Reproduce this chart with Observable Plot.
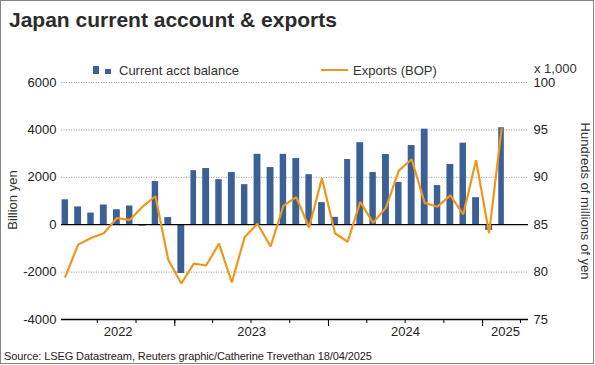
<!DOCTYPE html>
<html>
<head>
<meta charset="utf-8">
<script src="https://cdn.jsdelivr.net/npm/d3@7"></script>
<script src="https://cdn.jsdelivr.net/npm/@observablehq/plot@0.6"></script>
<style>
  html, body { margin: 0; padding: 0; background: #fff; }
  #wrap { position: relative; width: 595px; height: 365px; background: #fff; font-family: "Liberation Sans", Arial, sans-serif; color: #333; overflow: hidden; }
  #wrap .abs { position: absolute; white-space: nowrap; }
  #border { position: absolute; left: 0; top: 0; width: 594px; height: 364px; box-sizing: border-box; border: 1px solid #858585; pointer-events: none; }
  #chart { position: absolute; left: 0; top: 60px; }
</style>
</head>
<body>
<div id="wrap">
  <div class="abs" style="left:9px; top:9px; font-size:21px; line-height:21px; font-weight:bold; color:#2b2b2b;">Japan current account &amp; exports</div>
  <div class="abs" style="left:93px; top:66px; width:6px; height:8px; background:#3b6095;"></div>
  <div class="abs" style="left:105px; top:69px; width:6px; height:5px; background:#3b6095;"></div>
  <div class="abs" style="left:119px; top:63.5px; font-size:13px; line-height:13px;">Current acct balance</div>
  <div class="abs" style="left:321px; top:69px; width:27px; height:2px; background:#f0961a;"></div>
  <div class="abs" style="left:353px; top:63.5px; font-size:13px; line-height:13px;">Exports (BOP)</div>
  <div class="abs" style="left:534px; top:62px; font-size:13px; line-height:13px;">x 1,000</div>
  <div class="abs" style="left:12px; top:200px; font-size:13px; line-height:13px; transform:translate(-50%,-50%) rotate(-90deg);">Billion yen</div>
  <div class="abs" style="left:585px; top:201px; font-size:13px; line-height:13px; transform:translate(-50%,-50%) rotate(90deg);">Hundreds of millions of yen</div>
  <div class="abs" style="left:4px; top:350px; font-size:11px; line-height:12px; letter-spacing:-0.1px; color:#222;">Source: LSEG Datastream, Reuters graphic/Catherine Trevethan 18/04/2025</div>
  <div id="chart"></div>
  <div id="border"></div>
</div>
<script>
// ---- Data ----
const months = [
  "2022-04","2022-05","2022-06","2022-07","2022-08","2022-09","2022-10","2022-11","2022-12",
  "2023-01","2023-02","2023-03","2023-04","2023-05","2023-06","2023-07","2023-08","2023-09","2023-10","2023-11","2023-12",
  "2024-01","2024-02","2024-03","2024-04","2024-05","2024-06","2024-07","2024-08","2024-09","2024-10","2024-11","2024-12",
  "2025-01","2025-02"
];
// Current account balance, billion yen
const currentAcct = [
  1050, 750, 490, 830, 630, 790, -60, 1820, 300,
  -2060, 2280, 2370, 1900, 2200, 1690, 2970, 2410, 2970, 2790, 2110, 930,
  310, 2750, 3460, 2200, 2960, 1780, 3340, 4030, 1650, 2540, 3440, 1140,
  -240, 4090
];
// Exports (BOP), hundreds of millions of yen x 1,000
const exportsBOP = [
  79.5, 82.9, 83.6, 84.1, 85.7, 85.5, 86.9, 88.0, 81.3,
  78.8, 80.9, 80.7, 83.0, 78.9, 83.7, 85.1, 82.7, 87.0, 87.9, 84.7, 89.9,
  84.1, 83.2, 87.4, 85.2, 86.8, 90.7, 91.9, 87.3, 86.9, 88.1, 86.1, 91.8,
  84.1, 95.1
];
const leftTicks = [-4000, -2000, 0, 2000, 4000, 6000];
const rightTicks = [75, 80, 85, 90, 95, 100];
const gridTicks = [-2000, 2000, 4000, 6000];
const yearNames = ["2022", "2023", "2024", "2025"];

// ---- Build ----
const barColor = "#3b6095";
const lineColor = "#f0961a";
const parse = d3.utcParse("%Y-%m");
const rows = months.map((m, i) => {
  const start = parse(m);
  const next = d3.utcMonth.offset(start, 1);
  return { start, mid: new Date((+start + +next) / 2), ca: currentAcct[i], ex: exportsBOP[i] };
});
// right axis mapped onto the left scale: 85 <-> 0, 5 units <-> 2000
const toLeft = v => (v - 85) * 400;
const fromLeft = d => String(Math.round((d / 400 + 85) * 100) / 100);

const xDomain = [new Date(Date.UTC(2022, 3, 7)), new Date(Date.UTC(2025, 3, 20))];
const quarterTicks = d3.utcMonth.every(3).range(xDomain[0], xDomain[1]);
const yearTicks = d3.utcYear.range(xDomain[0], xDomain[1]);
const yearLabels = yearNames.map(y => {
  const s = Math.max(+Date.UTC(+y, 0, 1), +xDomain[0]);
  const e = Math.min(+Date.UTC(+y + 1, 0, 1), +xDomain[1]);
  return { label: y, mid: new Date((s + e) / 2) };
});

const chart = Plot.plot({
  width: 595,
  height: 290,
  marginLeft: 61,
  marginRight: 67,
  marginTop: 22,
  marginBottom: 31,
  style: { fontFamily: "'Liberation Sans', Arial, sans-serif", fontSize: "13px", color: "#222", background: "transparent", overflow: "visible" },
  x: { type: "utc", domain: xDomain, axis: null },
  y: { domain: [-4000, 6000], axis: null },
  marks: [
    Plot.ruleY(gridTicks, { stroke: "#9a9a9a", strokeDasharray: "1,1.5", strokeWidth: 1 }),
    Plot.rectY(rows, { x: "start", y: "ca", interval: d3.utcMonth, fill: barColor, insetLeft: 3.1, insetRight: 3.1 }),
    Plot.ruleY([0], { stroke: "#000", strokeWidth: 1.3 }),
    Plot.line(rows, { x: "mid", y: d => toLeft(d.ex), stroke: lineColor, strokeWidth: 2.2, strokeLinejoin: "miter" }),
    Plot.ruleY([-4000], { stroke: "#000", strokeWidth: 1.3 }),
    Plot.axisY(leftTicks, { anchor: "left", tickSize: 0, tickPadding: 5, tickFormat: d => String(d), label: null, fontSize: 13 }),
    Plot.axisY(rightTicks.map(toLeft), { anchor: "right", tickSize: 0, tickPadding: 5, tickFormat: fromLeft, label: null, fontSize: 13 }),
    Plot.axisX(quarterTicks, { anchor: "bottom", tickSize: 4, tickFormat: () => "", label: null, stroke: "#000" }),
    Plot.axisX(yearTicks, { anchor: "bottom", tickSize: 7, tickFormat: () => "", label: null, stroke: "#000" }),
    Plot.text(yearLabels, { x: "mid", text: "label", frameAnchor: "bottom", dy: 16, fontSize: 13, fill: "#222" })
  ]
});
document.getElementById("chart").appendChild(chart);
</script>
</body>
</html>
